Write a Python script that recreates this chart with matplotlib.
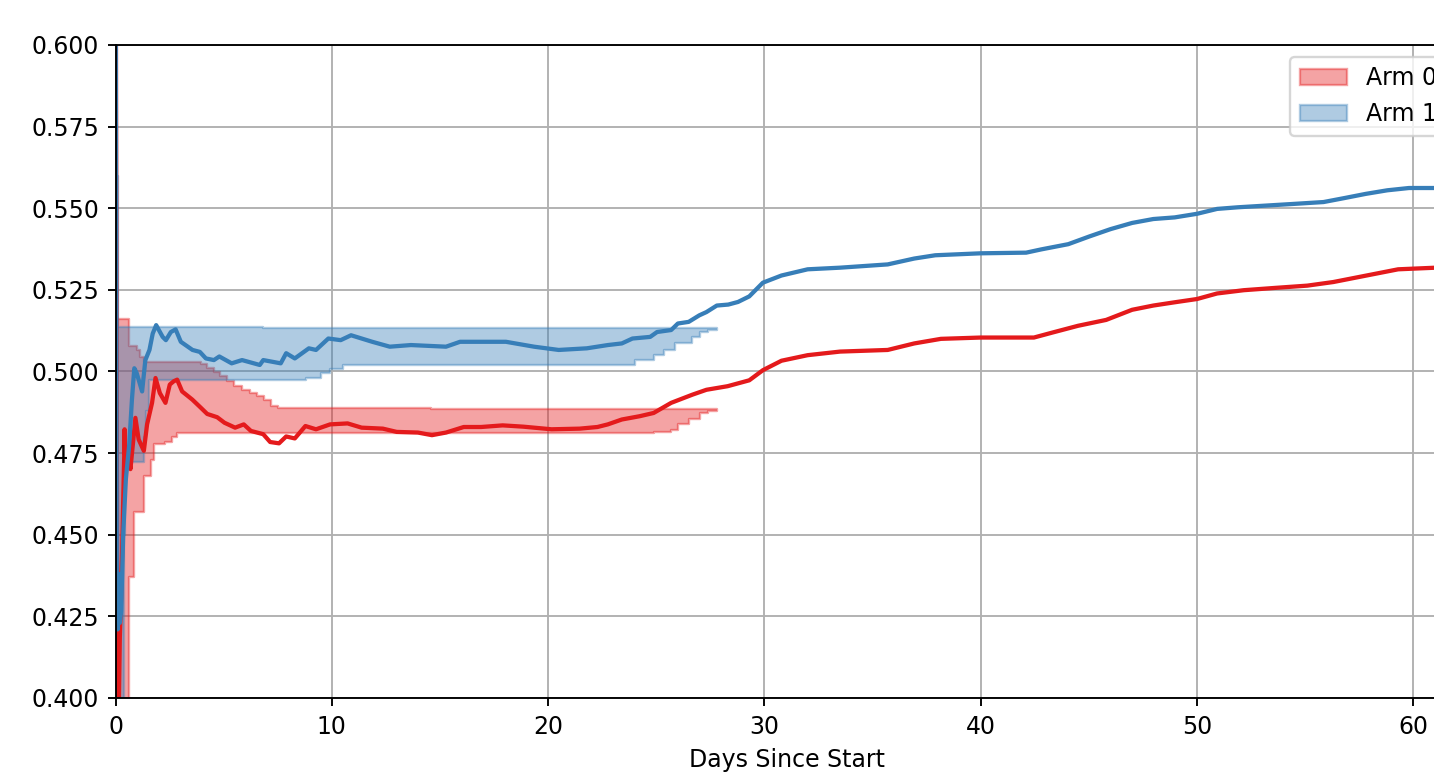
import matplotlib
matplotlib.use("Agg")
import matplotlib.pyplot as plt
import numpy as np

# running estimate per arm: (day, value)
arm0_line = [
    (0.00, 0.660), (0.05, 0.500), (0.10, 0.390), (0.15, 0.395), (0.20, 0.4185),
    (0.26, 0.4307), (0.30, 0.4428), (0.35, 0.4590), (0.41, 0.4762), (0.42, 0.4823),
    (0.44, 0.4745), (0.50, 0.4742), (0.60, 0.4742), (0.69, 0.4701), (0.81, 0.4782),
    (0.92, 0.4858), (1.07, 0.4792), (1.31, 0.4757), (1.46, 0.4838), (1.69, 0.4904),
    (1.85, 0.4980), (2.05, 0.4934), (2.31, 0.4904), (2.51, 0.4960), (2.69, 0.4970),
    (2.85, 0.4975), (3.08, 0.4939), (3.55, 0.4914), (3.93, 0.4890), (4.24, 0.4870),
    (4.70, 0.4860), (5.04, 0.4843), (5.53, 0.4828), (5.93, 0.4838), (6.26, 0.4818),
    (6.83, 0.4808), (7.15, 0.4784), (7.56, 0.4780), (7.89, 0.4801), (8.29, 0.4795),
    (8.78, 0.4833), (9.27, 0.4823), (9.92, 0.4838), (10.73, 0.4841), (11.38, 0.4828),
    (12.36, 0.4825), (13.00, 0.4815), (13.98, 0.4813), (14.63, 0.4805), (15.28, 0.4813),
    (16.10, 0.4830), (16.90, 0.4830), (17.90, 0.4835), (18.86, 0.4831), (20.16, 0.4823),
    (21.46, 0.4825), (22.28, 0.4830), (22.76, 0.4838), (23.41, 0.4853), (24.23, 0.4863),
    (24.88, 0.4873), (25.69, 0.4904), (26.67, 0.4929), (27.32, 0.4944), (28.30, 0.4955),
    (29.30, 0.4973), (29.93, 0.5004), (30.79, 0.5033), (32.00, 0.5050), (33.50, 0.5061),
    (35.70, 0.5066), (36.93, 0.5086), (38.16, 0.5100), (40.00, 0.5104), (42.46, 0.5104),
    (43.30, 0.5119), (44.50, 0.5140), (45.80, 0.5158), (47.00, 0.5189), (47.98, 0.5202),
    (48.97, 0.5212), (50.00, 0.5222), (50.93, 0.5239), (52.16, 0.5249), (53.60, 0.5256),
    (55.10, 0.5263), (56.30, 0.5274), (57.30, 0.5287), (58.30, 0.5300), (59.30, 0.5313),
    (62.10, 0.5321),
]

arm1_line = [
    (0.00, 0.660), (0.03, 0.530), (0.06, 0.440), (0.10, 0.421), (0.15, 0.438),
    (0.20, 0.423), (0.26, 0.4266), (0.36, 0.4509), (0.48, 0.4671), (0.63, 0.4772),
    (0.76, 0.4914), (0.87, 0.5010), (0.98, 0.4995), (1.23, 0.4939), (1.38, 0.5035),
    (1.57, 0.5066), (1.72, 0.5116), (1.88, 0.5142), (2.18, 0.5106), (2.33, 0.5096),
    (2.56, 0.5121), (2.78, 0.5129), (3.02, 0.5091), (3.56, 0.5066), (3.90, 0.5060),
    (4.18, 0.5040), (4.55, 0.5035), (4.80, 0.5046), (5.37, 0.5025), (5.85, 0.5035),
    (6.67, 0.5020), (6.83, 0.5035), (7.64, 0.5025), (7.89, 0.5056), (8.29, 0.5040),
    (8.94, 0.5071), (9.27, 0.5066), (9.84, 0.5101), (10.41, 0.5096), (10.89, 0.5111),
    (11.87, 0.5091), (12.68, 0.5076), (13.66, 0.5081), (15.28, 0.5076), (15.93, 0.5091),
    (16.91, 0.5091), (18.05, 0.5091), (19.35, 0.5076), (20.49, 0.5066), (21.79, 0.5071),
    (22.76, 0.5081), (23.41, 0.5086), (23.90, 0.5101), (24.72, 0.5106), (25.04, 0.5121),
    (25.69, 0.5127), (26.00, 0.5147), (26.50, 0.5152), (26.99, 0.5172), (27.32, 0.5182),
    (27.80, 0.5202), (28.33, 0.5205), (28.78, 0.5213), (29.30, 0.5230), (29.93, 0.5272),
    (30.79, 0.5294), (32.00, 0.5313), (33.50, 0.5318), (35.70, 0.5328), (36.93, 0.5346),
    (37.90, 0.5356), (40.00, 0.5362), (42.10, 0.5364), (42.80, 0.5374), (44.05, 0.5390),
    (45.04, 0.5414), (46.00, 0.5436), (47.00, 0.5455), (47.98, 0.5467), (48.97, 0.5472),
    (50.00, 0.5483), (50.93, 0.5498), (51.90, 0.5503), (53.15, 0.5508), (54.40, 0.5513),
    (55.85, 0.5519), (56.80, 0.5531), (57.80, 0.5544), (58.80, 0.5555), (59.80, 0.5562),
    (62.10, 0.5562),
]

# interval per arm: (day, lower, upper), drawn as steps
arm0_band = [
    (0.00, 0.300, 0.700), (0.05, 0.300, 0.5162), (0.62, 0.437, 0.5077),
    (0.85, 0.457, 0.5077), (1.00, 0.457, 0.5066), (1.15, 0.457, 0.5045),
    (1.31, 0.468, 0.5030), (1.62, 0.473, 0.5030), (1.77, 0.4777, 0.5030),
    (2.31, 0.4785, 0.5030), (2.62, 0.4798, 0.5030), (2.85, 0.4813, 0.5030),
    (3.93, 0.4813, 0.5022), (4.24, 0.4813, 0.5012), (4.55, 0.4813, 0.4998),
    (4.85, 0.4813, 0.4985), (5.16, 0.4813, 0.4970), (5.47, 0.4813, 0.4955),
    (5.85, 0.4813, 0.4944), (6.24, 0.4813, 0.4934), (6.55, 0.4813, 0.4924),
    (6.86, 0.4813, 0.4913), (7.17, 0.4813, 0.4893), (7.50, 0.4813, 0.4889),
    (14.60, 0.4813, 0.4886), (24.90, 0.4816, 0.4886), (25.70, 0.4822, 0.4886),
    (26.00, 0.4838, 0.4886), (26.50, 0.4853, 0.4886), (27.00, 0.4873, 0.4886),
    (27.40, 0.4880, 0.4886), (27.80, 0.4880, 0.4886),
]

arm1_band = [
    (0.00, 0.300, 0.700), (0.03, 0.300, 0.560), (0.10, 0.300, 0.5135),
    (0.30, 0.400, 0.5135), (0.38, 0.450, 0.5135), (0.45, 0.4722, 0.5135),
    (1.30, 0.4800, 0.5135), (1.40, 0.4880, 0.5135), (1.55, 0.4975, 0.5135),
    (6.80, 0.4975, 0.5132), (8.80, 0.4980, 0.5132), (9.50, 0.4995, 0.5132),
    (9.90, 0.5007, 0.5132), (10.50, 0.5020, 0.5132), (24.00, 0.5035, 0.5132),
    (24.90, 0.5050, 0.5132), (25.35, 0.5066, 0.5132), (25.85, 0.5088, 0.5132),
    (26.65, 0.5106, 0.5132), (27.00, 0.5121, 0.5132), (27.40, 0.5128, 0.5132),
    (27.80, 0.5128, 0.5132),
]

arm_names = ["Arm 0", "Arm 1"]
colors = ["#e41a1c", "#377eb8"]

dpi = 170
fig = plt.figure(figsize=(1434 / dpi, 773 / dpi), dpi=dpi)
# axes run a little past the right edge of the canvas
ax = fig.add_axes([115.5 / 1434, 75 / 773, (1458 - 115.5) / 1434, 653 / 773])

for band, c, name in zip([arm0_band, arm1_band], colors, arm_names):
    b = np.array(band)
    ax.fill_between(b[:, 0], b[:, 1], b[:, 2], step="post", color=c, alpha=0.4, label=name)

for line, c in zip([arm0_line, arm1_line], colors):
    l = np.array(line)
    ax.plot(l[:, 0], l[:, 1], color=c, lw=1.8)

ax.set_xlim(0, (1458 - 115.5) / 21.63)
ax.set_ylim(0.4, 0.6)
ax.set_yticks(np.arange(0.4, 0.6001, 0.025))
ax.grid(True)
ax.set_axisbelow(True)
ax.set_xlabel("Days Since Start")
ax.legend(loc="upper right")

fig.savefig("out.png", dpi=dpi)
